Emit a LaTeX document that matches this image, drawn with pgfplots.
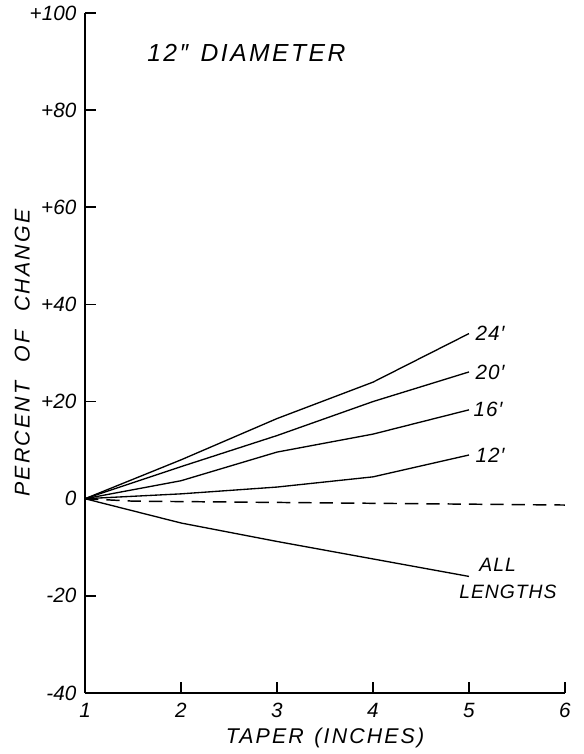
\documentclass[border=0pt]{standalone}
\usepackage{fontspec}
\setmainfont{Liberation Sans}
\usepackage{pgfplots}
\pgfplotsset{compat=1.18}
\newcommand{\lab}[1]{{\itshape\addfontfeatures{LetterSpace=10}#1}}
\newcommand{\labn}[1]{{\itshape\addfontfeatures{LetterSpace=5}#1}}
\begin{document}
\begin{tikzpicture}
\useasboundingbox (-63.75pt,-45.75pt) rectangle (374.25pt,519.75pt);
\begin{axis}[
  at={(0,0)}, anchor=south west,
  scale only axis, width=360pt, height=510pt,
  xmin=1, xmax=6, ymin=-40, ymax=100,
  axis lines=left, axis line style={-, line width=1.4pt},
  tick align=inside, major tick length=8.5pt,
  tick style={line width=1.2pt, black},
  xtick={1,2,3,4,5,6},
  ytick={-40,-20,0,20,40,60,80,100},
  yticklabels={-40,-20,0,+20,+40,+60,+80,+100},
  /pgf/number format/assume math mode=true,
  tick label style={font=\fontsize{15.5}{17}\selectfont\itshape},
  xticklabel style={yshift=-4pt},
  yticklabel style={xshift=-3pt},
  clip=false,
  xlabel={\lab{TAPER\hspace{0.5em}(INCHES)}},
  ylabel={\lab{PERCENT\hspace{0.9em}OF\hspace{0.9em}CHANGE}},
  label style={font=\fontsize{16}{18}\selectfont},
  xlabel style={at={(axis description cs:0.5,0)}, anchor=center, yshift=-34pt},
  ylabel style={at={(axis description cs:0,0.5)}, anchor=center, yshift=47pt},
]
% 24'
\addplot[black, line width=1pt] coordinates {(1,0) (2,8) (3,16.5) (4,24) (5,34)};
% 20'
\addplot[black, line width=1pt] coordinates {(1,0) (2,6.6) (3,13) (4,20) (5,26.1)};
% 16'
\addplot[black, line width=1pt] coordinates {(1,0) (2,3.7) (3,9.6) (4,13.3) (5,18.3)};
% 12'
\addplot[black, line width=1pt] coordinates {(1,0) (2,1) (3,2.4) (4,4.5) (5,9)};
% dashed
\addplot[black, line width=1.1pt, dash pattern=on 10pt off 6pt] coordinates {(1,0) (1.5,-0.5) (6,-1.3)};
% all lengths
\addplot[black, line width=1pt] coordinates {(1,0) (2,-5) (3,-8.8) (4,-12.4) (5,-16)};

\node[anchor=west, font=\fontsize{18.5}{20}\selectfont] at (axis cs:1.6,91.8) {\lab{12″\hspace{0.5em}DIAMETER}};
\node[anchor=west, font=\fontsize{15.5}{17}\selectfont] at (axis cs:5.02,34.1) {\labn{24′}};
\node[anchor=west, font=\fontsize{15.5}{17}\selectfont] at (axis cs:5.02,26.1) {\labn{20′}};
\node[anchor=west, font=\fontsize{15.5}{17}\selectfont] at (axis cs:5.0,18.3) {\labn{16′}};
\node[anchor=west, font=\fontsize{15.5}{17}\selectfont] at (axis cs:5.02,9.0) {\labn{12′}};
\node[anchor=west, font=\fontsize{14.5}{17}\selectfont] at (axis cs:5.06,-13.7) {\labn{ALL}};
\node[anchor=west, font=\fontsize{14.5}{17}\selectfont] at (axis cs:4.85,-19.2) {\labn{LENGTHS}};
\end{axis}
\end{tikzpicture}
\end{document}
